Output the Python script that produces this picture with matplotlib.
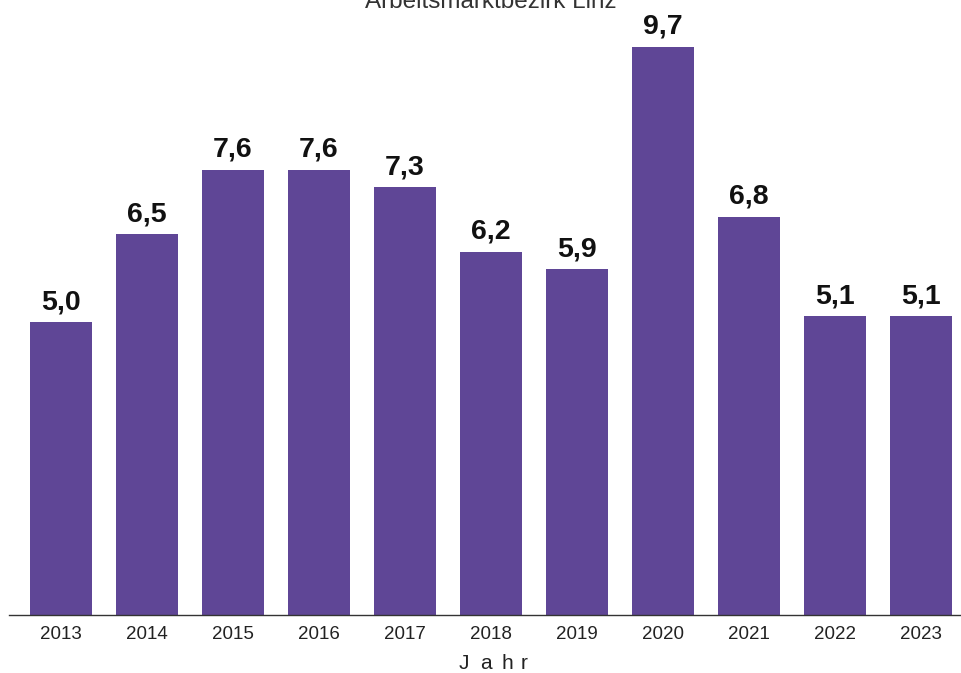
import matplotlib.pyplot as plt
import numpy as np

jahre = ['2013', '2014', '2015', '2016', '2017', '2018', '2019', '2020', '2021', '2022', '2023']
werte = [5.0, 6.5, 7.6, 7.6, 7.3, 6.2, 5.9, 9.7, 6.8, 5.1, 5.1]

plt.rcParams['font.family'] = ['Liberation Sans', 'DejaVu Sans']

fig = plt.figure(figsize=(9.62, 6.73), dpi=100)
ax = fig.add_axes([9 / 962, 58 / 673, 964 / 962, 615 / 673])

x = np.arange(len(jahre))
ax.bar(x, werte, width=0.72, color='#5f4696')
for xi, v in zip(x, werte):
    ax.text(xi, v + 0.22, f'{v:.1f}'.replace('.', ','), ha='center', va='baseline',
            fontsize=20.5, fontweight='bold', color='#111111')

ax.set_xlim(-0.6, 10.6)
ax.set_ylim(0, 10.5)
ax.set_xticks(x)
ax.set_xticklabels(jahre, fontsize=13.5, color='#222222')
ax.tick_params(axis='x', length=0, pad=8)
ax.set_yticks([])
for s in ['top', 'right', 'left']:
    ax.spines[s].set_visible(False)
ax.spines['bottom'].set_color('#333333')
ax.spines['bottom'].set_linewidth(1)

fig.text(491 / 962, 1 - 8 / 673, 'Arbeitsmarktbezirk Linz', ha='center', va='baseline',
         fontsize=17.5, color='#333333')

# letter-spaced axis title
for ch, px in zip('Jahr', [464, 486, 507, 524]):
    fig.text(px / 962, 1 - 669 / 673, ch, ha='center', va='baseline',
             fontsize=15, color='#222222')

fig.savefig('out.png', dpi=100)
